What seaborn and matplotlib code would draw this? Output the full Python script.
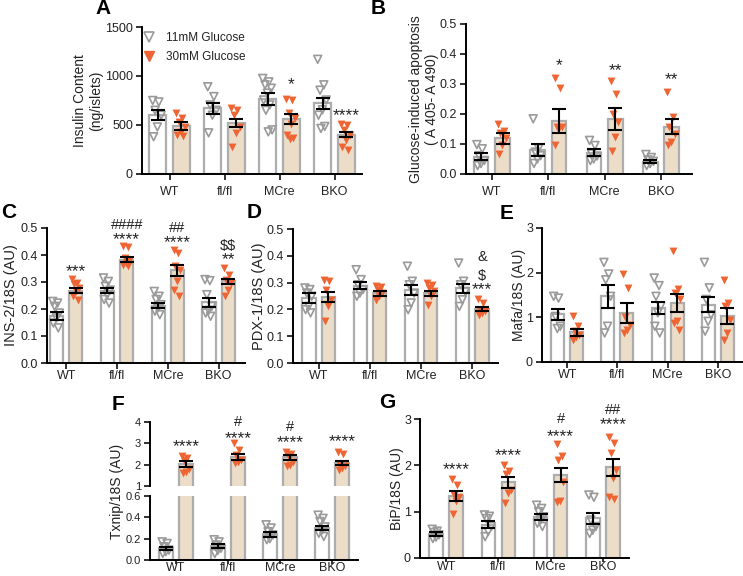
import numpy as np
import pandas as pd
import seaborn as sns
import matplotlib.pyplot as plt
from matplotlib.lines import Line2D
from matplotlib.ticker import FormatStrFormatter

groups = ['WT', 'fl/fl', 'MCre', 'BKO']
glucose = ['11mM Glucose', '30mM Glucose']

# A - insulin content (ng/islets)
a_mean_11 = [600, 670, 765, 720]
a_sem_11 = [50, 55, 60, 60]
a_mean_30 = [490, 520, 558, 400]
a_sem_30 = [38, 45, 50, 25]
a_pts_11 = [[750, 735, 650, 600, 480, 380],
            [890, 790, 705, 650, 600, 420],
            [975, 940, 910, 875, 825, 755, 705, 650, 450, 430],
            [1170, 910, 855, 755, 655, 600, 485, 465]]
a_pts_30 = [[620, 570, 530, 480, 430, 400, 390],
            [670, 650, 600, 480, 415, 280],
            [770, 755, 620, 570, 515, 400, 365, 360],
            [515, 500, 450, 400, 345, 280, 245]]
a_marks = [(2, '*', 910), (3, '****', 600)]

# B - glucose-induced apoptosis
b_mean_11 = [0.058, 0.081, 0.071, 0.041]
b_sem_11 = [0.012, 0.02, 0.012, 0.005]
b_mean_30 = [0.119, 0.178, 0.184, 0.158]
b_sem_30 = [0.018, 0.04, 0.037, 0.025]
b_pts_11 = [[0.098, 0.084, 0.061, 0.045, 0.035, 0.028],
            [0.184, 0.085, 0.073, 0.061, 0.05, 0.035],
            [0.112, 0.095, 0.067, 0.06, 0.05, 0.045],
            [0.065, 0.055, 0.047, 0.042, 0.035, 0.028]]
b_pts_30 = [[0.167, 0.142, 0.135, 0.12, 0.098, 0.067],
            [0.321, 0.285, 0.157, 0.155, 0.152, 0.095],
            [0.309, 0.265, 0.2, 0.173, 0.123, 0.078],
            [0.273, 0.19, 0.156, 0.134, 0.106, 0.098]]
b_marks = [(1, '*', 0.36), (2, '**', 0.346), (3, '**', 0.316)]

# C - INS-2/18S
c_mean_11 = [0.173, 0.268, 0.212, 0.225]
c_sem_11 = [0.015, 0.01, 0.01, 0.017]
c_mean_30 = [0.268, 0.383, 0.343, 0.302]
c_sem_30 = [0.01, 0.01, 0.02, 0.01]
c_pts_11 = [[0.228, 0.222, 0.21, 0.185, 0.167, 0.148, 0.13],
            [0.315, 0.302, 0.284, 0.27, 0.253, 0.235, 0.222],
            [0.265, 0.247, 0.235, 0.216, 0.204, 0.192, 0.179],
            [0.309, 0.305, 0.253, 0.21, 0.195, 0.185, 0.173]]
c_pts_30 = [[0.312, 0.296, 0.292, 0.278, 0.265, 0.247, 0.235],
            [0.435, 0.43, 0.388, 0.376, 0.37, 0.364, 0.358],
            [0.417, 0.407, 0.358, 0.346, 0.302, 0.272, 0.247],
            [0.352, 0.327, 0.309, 0.296, 0.272, 0.247]]
c_marks = [(0, '***', 0.34), (1, '****', 0.457), (1, '####', 0.512),
           (2, '****', 0.447), (2, '##', 0.5), (3, '**', 0.383), (3, '$$', 0.432)]

# D - PDX-1/18S
d_mean_11 = [0.243, 0.289, 0.272, 0.278]
d_sem_11 = [0.02, 0.012, 0.018, 0.015]
d_mean_30 = [0.246, 0.26, 0.26, 0.201]
d_sem_30 = [0.02, 0.01, 0.01, 0.007]
d_pts_11 = [[0.28, 0.274, 0.261, 0.249, 0.211, 0.199, 0.187],
            [0.348, 0.311, 0.292, 0.274, 0.261, 0.249],
            [0.361, 0.305, 0.292, 0.261, 0.224, 0.199],
            [0.373, 0.305, 0.292, 0.267, 0.236, 0.211]]
d_pts_30 = [[0.311, 0.305, 0.274, 0.236, 0.211, 0.155],
            [0.289, 0.284, 0.274, 0.261, 0.249, 0.236],
            [0.299, 0.292, 0.28, 0.268, 0.249, 0.218],
            [0.239, 0.224, 0.199, 0.193, 0.187, 0.18]]
d_marks = [(3, '***', 0.272), (3, '$', 0.325), (3, '&', 0.395)]

# E - Mafa/18S
e_mean_11 = [1.07, 1.47, 1.21, 1.28]
e_sem_11 = [0.12, 0.26, 0.14, 0.17]
e_mean_30 = [0.67, 1.1, 1.32, 1.02]
e_sem_30 = [0.08, 0.23, 0.2, 0.18]
e_pts_11 = [[1.47, 1.43, 1.02, 0.8, 0.75],
            [2.23, 1.97, 1.84, 1.47, 0.8, 0.65],
            [1.88, 1.71, 1.47, 1.25, 1.1, 0.8, 0.65],
            [2.23, 1.66, 1.4, 1.06, 0.91, 0.69]]
e_pts_30 = [[1.02, 0.8, 0.69, 0.6, 0.57, 0.5],
            [1.98, 1.66, 1.0, 0.83, 0.72, 0.65],
            [2.48, 1.64, 1.54, 1.4, 0.91, 0.87, 0.72],
            [1.83, 1.32, 1.25, 0.95, 0.65, 0.5]]

# F - Txnip/18S (broken axis)
f_mean_11 = [0.11, 0.13, 0.24, 0.30]
f_sem_11 = [0.015, 0.02, 0.02, 0.02]
f_mean_30 = [2.03, 2.37, 2.34, 2.08]
f_sem_30 = [0.15, 0.15, 0.1, 0.1]
f_pts_11 = [[0.17, 0.155, 0.124, 0.093, 0.078, 0.062],
            [0.19, 0.17, 0.14, 0.11, 0.09, 0.06],
            [0.33, 0.30, 0.265, 0.235, 0.2, 0.19],
            [0.42, 0.39, 0.36, 0.31, 0.28, 0.25, 0.22]]
f_pts_30 = [[2.4, 2.33, 2.2, 1.8, 1.66, 1.6],
            [3.0, 2.7, 2.45, 2.2, 2.14, 2.1],
            [2.6, 2.52, 2.45, 2.12, 1.97, 1.92],
            [2.6, 2.5, 1.97, 1.92, 1.85, 1.75]]
f_marks = [(0, '****', 2.85), (1, '****', 3.24), (1, '#', 3.98),
           (2, '****', 3.03), (2, '#', 3.75), (3, '****', 3.08)]

# G - BiP/18S
g_mean_11 = [0.52, 0.72, 0.89, 0.86]
g_sem_11 = [0.04, 0.07, 0.07, 0.12]
g_mean_30 = [1.34, 1.63, 1.79, 1.96]
g_sem_30 = [0.1, 0.12, 0.15, 0.18]
g_pts_11 = [[0.62, 0.58, 0.55, 0.5, 0.45, 0.42],
            [0.93, 0.9, 0.85, 0.68, 0.57, 0.46],
            [1.14, 1.07, 1.0, 0.89, 0.82, 0.75, 0.68],
            [1.36, 1.31, 0.82, 0.68, 0.6, 0.53]]
g_pts_30 = [[1.71, 1.58, 1.36, 1.32, 1.22, 0.96],
            [2.0, 1.88, 1.81, 1.47, 1.4, 1.19],
            [2.46, 2.2, 2.12, 1.65, 1.22, 1.21],
            [2.62, 2.49, 2.26, 1.9, 1.72, 1.31, 1.27]]
g_marks = [(0, '****', 1.9), (1, '****', 2.22), (2, '****', 2.63), (2, '#', 2.99),
           (3, '****', 2.87), (3, '##', 3.19)]

TAN = '#F2DEC2'
ORANGE = '#EF6433'
GREY = '#ADADAD'
GREY_PT = '#9A9A9A'

sns.set_style('ticks')
plt.rcParams['font.family'] = ['Liberation Sans', 'DejaVu Sans']
plt.rcParams['text.color'] = '#222222'
plt.rcParams['axes.labelcolor'] = '#222222'

W, H = 743, 576
fig = plt.figure(figsize=(W / 100, H / 100), dpi=100)


def box(x0, y0, x1, y1):
    return [x0 / W, 1 - y1 / H, (x1 - x0) / W, (y1 - y0) / H]


def spread(n, half):
    k = np.arange(n)
    return half * (((k * 0.618) % 1) * 2 - 1)


def draw(ax, m11, s11, m30, s30, p11, p30, width=0.76, gap=0.32):
    df = pd.DataFrame({'group': groups * 2,
                       'glucose': [glucose[0]] * 4 + [glucose[1]] * 4,
                       'value': m11 + m30})
    sns.barplot(data=df, x='group', y='value', hue='glucose', order=groups,
                hue_order=glucose, palette=['white', TAN], edgecolor=GREY,
                linewidth=1.6, width=width, gap=gap, errorbar=None,
                legend=False, ax=ax, zorder=1)
    bars = sorted(ax.patches, key=lambda p: p.get_x())
    xs = [p.get_x() + p.get_width() / 2 for p in bars]
    x11, x30 = xs[0::2], xs[1::2]
    half = bars[0].get_width() * 0.3
    for i in range(4):
        ax.scatter(x11[i] + spread(len(p11[i]), half), p11[i], marker='v', s=32,
                   facecolors='none', edgecolors=GREY_PT, linewidths=1.2, zorder=3)
        ax.scatter(x30[i] + spread(len(p30[i]), half), p30[i], marker='v', s=32,
                   color=ORANGE, linewidths=0, zorder=3)
    for xx, m, s in [(x11, m11, s11), (x30, m30, s30)]:
        ax.errorbar(xx, m, yerr=s, fmt='none', ecolor='black', elinewidth=1.5,
                    capsize=5, capthick=1.5, zorder=4)
    return x30


def style(ax, ylim, yticks, fmt=None, xlim=(-0.5, 3.5), xpad=1.0, xlen=4):
    ax.set_xlim(*xlim)
    ax.set_ylim(*ylim)
    ax.set_yticks(yticks)
    if fmt:
        ax.yaxis.set_major_formatter(FormatStrFormatter(fmt))
    sns.despine(ax=ax)
    for s in ['left', 'bottom']:
        ax.spines[s].set_linewidth(1.4)
        ax.spines[s].set_color('black')
    ax.tick_params(width=1.3, length=4, pad=2.5, labelsize=9, colors='#222222')
    ax.tick_params(axis='x', pad=xpad, length=xlen)
    ax.set_xlabel('')


def ylabel(ax, text, xc, x0, x1, yc=0.5, size=10):
    ax.set_ylabel(text, fontsize=size, va='center')
    ax.yaxis.set_label_coords((xc - x0) / (x1 - x0), yc)


def marks(ax, xs, items):
    for i, txt, y in items:
        size = 12.5 if txt.startswith('*') else 10.5
        ax.text(xs[i], y, txt, ha='center', va='center', fontsize=size,
                clip_on=False, color='#222222', parse_math=False)


def letter(x, y, t):
    fig.text(x / W, 1 - y / H, t, fontsize=15, fontweight='bold',
             ha='center', va='center', color='black')


# A
ax = fig.add_axes(box(142, 27, 362, 174))
xs = draw(ax, a_mean_11, a_sem_11, a_mean_30, a_sem_30, a_pts_11, a_pts_30,
          width=0.86, gap=0.3)
style(ax, (0, 1500), [0, 500, 1000, 1500], xpad=4.5)
ylabel(ax, 'Insulin Content\n(ng/islets)', 88, 142, 362)
marks(ax, xs, a_marks)
handles = [Line2D([], [], marker='v', ls='', markerfacecolor='none',
                  markeredgecolor=GREY_PT, markersize=7, markeredgewidth=1.2),
           Line2D([], [], marker='v', ls='', color=ORANGE, markersize=7)]
ax.legend(handles, glucose, loc='upper left', bbox_to_anchor=(-0.015, 0.995),
          frameon=False, fontsize=8.5, handlelength=1.0, handletextpad=0.9,
          borderaxespad=0, labelspacing=0.55)
letter(103, 9, 'A')

# B
ax = fig.add_axes(box(466, 24, 692, 174))
xs = draw(ax, b_mean_11, b_sem_11, b_mean_30, b_sem_30, b_pts_11, b_pts_30)
style(ax, (0, 0.5), np.arange(0, 0.51, 0.1), '%.1f', xlim=(-0.46, 3.55), xpad=4.5)
ylabel(ax, 'Glucose-induced apoptosis\n( A 405- A 490)', 424, 466, 692)
marks(ax, xs, b_marks)
letter(378, 9, 'B')

# C
ax = fig.add_axes(box(47, 228, 245, 363))
xs = draw(ax, c_mean_11, c_sem_11, c_mean_30, c_sem_30, c_pts_11, c_pts_30)
style(ax, (0, 0.5), np.arange(0, 0.51, 0.1), '%.1f', xlim=(-0.38, 3.52))
ylabel(ax, 'INS-2/18S (AU)', 11, 47, 245, size=10.5)
marks(ax, xs, c_marks)
letter(9, 212, 'C')

# D
ax = fig.add_axes(box(293, 229, 498, 363))
xs = draw(ax, d_mean_11, d_sem_11, d_mean_30, d_sem_30, d_pts_11, d_pts_30)
style(ax, (0, 0.5), np.arange(0, 0.51, 0.1), '%.1f')
ylabel(ax, 'PDX-1/18S (AU)', 259, 293, 498, size=10.5)
marks(ax, xs, d_marks)
letter(254, 212, 'D')

# E
ax = fig.add_axes(box(542, 228, 742, 362))
xs = draw(ax, e_mean_11, e_sem_11, e_mean_30, e_sem_30, e_pts_11, e_pts_30)
style(ax, (0, 3), [0, 1, 2, 3], xlim=(-0.5, 3.48))
ylabel(ax, 'Mafa/18S (AU)', 519, 542, 742)
letter(507, 213, 'E')

# F - broken y axis
ax_top = fig.add_axes(box(150, 422, 358, 486))
ax_bot = fig.add_axes(box(150, 496, 358, 560))
for ax in (ax_top, ax_bot):
    xs = draw(ax, f_mean_11, f_sem_11, f_mean_30, f_sem_30, f_pts_11, f_pts_30)
style(ax_top, (1, 4), [1, 2, 3, 4])
ax_top.spines['bottom'].set_visible(False)
ax_top.tick_params(axis='x', bottom=False, labelbottom=False)
ax_top.tick_params(axis='y', labelsize=8)
style(ax_bot, (0, 0.6), [0, 0.2, 0.4, 0.6], '%.1f', xpad=-1.5, xlen=3)
ax_bot.tick_params(axis='y', labelsize=8)
ax_top.set_ylabel('')
ylabel(ax_bot, 'Txnip/18S (AU)', 117, 150, 358, yc=(560 - 491) / 64)
marks(ax_top, xs, f_marks)
letter(118, 404, 'F')

# G
ax = fig.add_axes(box(420, 419, 629, 558))
xs = draw(ax, g_mean_11, g_sem_11, g_mean_30, g_sem_30, g_pts_11, g_pts_30)
style(ax, (0, 3), [0, 1, 2, 3], xpad=-1.0, xlen=3)
ylabel(ax, 'BiP/18S (AU)', 397, 420, 629)
marks(ax, xs, g_marks)
letter(387, 403, 'G')

fig.savefig('out.png', dpi=100, facecolor='white')
